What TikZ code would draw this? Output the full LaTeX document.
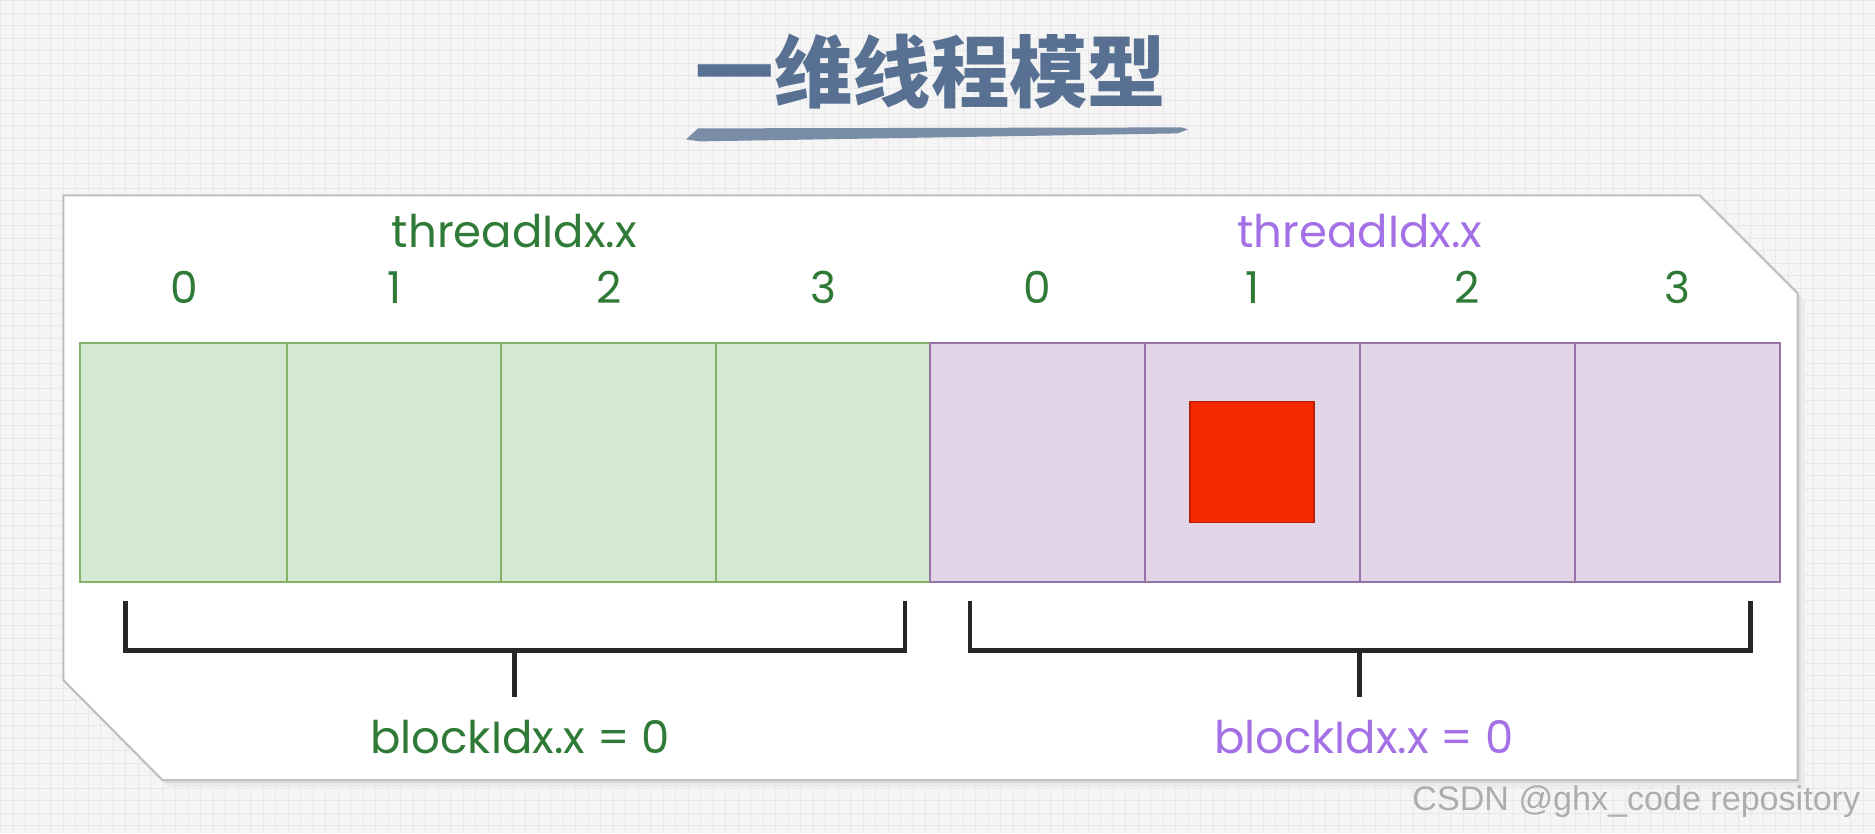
\documentclass[tikz,border=0pt]{standalone}
\usepackage{fontspec}
\setmainfont{Poppins}
\newfontfamily\cjk{Noto Sans CJK SC}
\newfontfamily\wmfont{Liberation Sans}
\usetikzlibrary{positioning,fit,calc}

\definecolor{gfill}{HTML}{D5E8D4}
\definecolor{gline}{HTML}{82B366}
\definecolor{pfill}{HTML}{E1D5E7}
\definecolor{pline}{HTML}{9673A6}
\definecolor{gtext}{RGB}{46,122,54}
\definecolor{ptext}{RGB}{164,112,230}
\definecolor{titleblue}{RGB}{88,112,145}
\definecolor{hot}{RGB}{245,42,0}
\definecolor{bggray}{RGB}{245,245,245}
\definecolor{gridgray}{RGB}{232,232,232}

\begin{document}
\begin{tikzpicture}[
  x=0.01cm, y=-0.01cm,
  font=\fontsize{12.8}{14}\selectfont,
  gcell/.style={draw=gline, fill=gfill, line width=0.6pt, inner sep=0pt},
  pcell/.style={draw=pline, fill=pfill, line width=0.6pt, inner sep=0pt},
  digit/.style={text=gtext, inner sep=0pt, font=\fontsize{12.5}{14}\selectfont},
  glabel/.style={text=gtext, inner sep=0pt},
  plabel/.style={text=ptext, inner sep=0pt},
  brk/.style={draw=black!85, line width=1.4pt},
  panel/.style={draw=black!25, line width=0.6pt, fill=white}
]
% background sheet
\fill[bggray] (0,0) rectangle (1875,833);
\draw[gridgray, line width=0.25pt, step=0.125cm] (0,0) grid (1875,833);
\useasboundingbox (0,0) rectangle (1875,833);

% title
\node[text=titleblue, font=\cjk\bfseries\fontsize{22.3}{24}\selectfont] (title) at (931,71) {一维线程模型};
\fill[titleblue!80] (686,139) -- (698,128) -- (1182,127) -- (1188,129) -- (1178,133) -- (700,141) -- cycle;

% panel with cut corners
\fill[black!8] (69,202) -- (1706,202) -- (1805,300) -- (1805,787) -- (168,787) -- (69,687) -- cycle;
\fill[black!14] (66,198) -- (1703,198) -- (1801,296) -- (1801,783) -- (165,783) -- (66,683) -- cycle;
\path[panel] (63,195) -- (1700,195) -- (1798,293) -- (1798,780) -- (162,780) -- (63,680) -- cycle;

% thread cells
\foreach \i/\l/\r in {1/80/287, 2/287/501, 3/501/716, 4/716/930}
  \node[gcell, fit={(\l,343) (\r,582)}] (c\i) {};
\foreach \i/\l/\r in {5/930/1145, 6/1145/1360, 7/1360/1575, 8/1575/1780}
  \node[pcell, fit={(\l,343) (\r,582)}] (c\i) {};

\foreach \i/\d in {1/0,2/1,3/2,4/3,5/0,6/1,7/2,8/3}
  \node[digit, above=0.38cm of c\i] (d\i) {\d};

\node[glabel] (tg) at (514,231) {threadIdx.x};
\node[plabel] (tp) at (1360,231) {threadIdx.x};

\node[draw=hot!75!black, fill=hot, line width=0.4pt, inner sep=0pt, fit={(1190,401) (1314,522)}] (hotcell) {};

% block brackets
\node[glabel] (bg) at (520,737) {blockIdx.x = 0};
\node[plabel] (bp) at (1364,737) {blockIdx.x = 0};

\coordinate (gl) at (125,601);
\coordinate (gr) at (905,601);
\coordinate (pl) at (970,601);
\coordinate (pr) at (1751,601);
\coordinate (gm) at (514,650);
\coordinate (pm) at (1360,650);

\draw[brk] (gl) -- ++(0,49) -| (gr);
\draw[brk] (pl) -- ++(0,49) -| (pr);
\draw[brk, shorten >=0.23cm] (gm) -- (gm |- bg.north);
\draw[brk, shorten >=0.23cm] (pm) -- (pm |- bp.north);

\node[font=\wmfont\fontsize{9.7}{11}\selectfont, text=black!32, anchor=base west, inner sep=0pt] (wm) at (1412,810) {CSDN @ghx\_code repository};
\end{tikzpicture}
\end{document}
